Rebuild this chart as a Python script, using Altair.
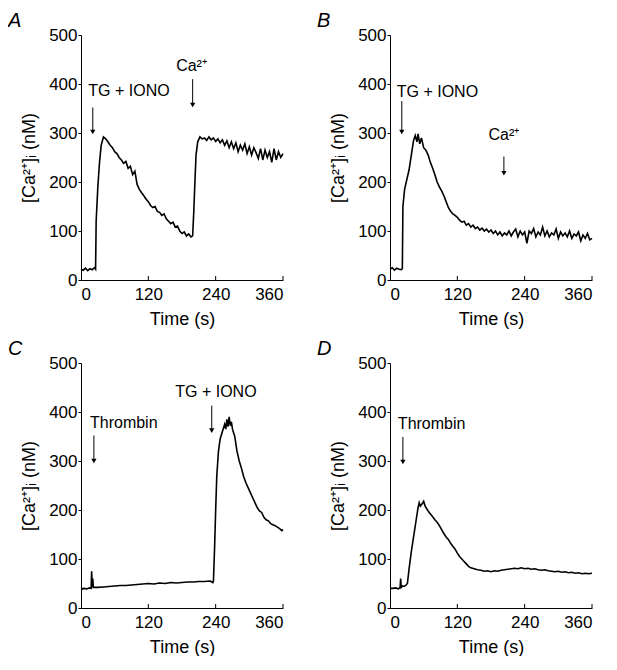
import altair as alt
import pandas as pd

# ---------------- data ----------------
A_t = [0, 4, 8, 12, 16, 20, 24, 26, 27, 30, 33, 36, 40, 44, 48, 52, 56, 60, 64, 68, 72, 76, 80, 84, 88,
       92, 96, 100, 104, 108, 112, 116, 120, 124, 128, 132, 136, 140, 144, 148, 152, 156, 160, 164, 168,
       172, 176, 180, 184, 188, 192, 196, 199, 201, 203, 205, 208, 212, 216, 220, 224, 228, 232, 236, 240,
       244, 248, 252, 256, 260, 264, 268, 272, 276, 280, 284, 288, 292, 296, 300, 304, 308, 312, 316, 320,
       324, 328, 332, 336, 340, 344, 348, 352, 356, 360]
A_v = [22, 20, 24, 19, 23, 21, 25, 22, 120, 190, 240, 275, 292, 288, 282, 275, 270, 262, 258, 250, 245, 238,
       242, 228, 232, 215, 222, 195, 185, 178, 172, 165, 160, 152, 148, 150, 140, 138, 132, 135, 125, 120, 115,
       118, 108, 110, 100, 95, 98, 90, 94, 88, 90, 140, 200, 255, 282, 292, 288, 290, 285, 292, 286, 290, 283,
       288, 280, 286, 275, 284, 270, 282, 268, 280, 262, 275, 265, 278, 258, 272, 255, 270, 260, 248, 268,
       245, 265, 250, 262, 240, 268, 245, 262, 250, 258]

B_t = [0, 4, 8, 12, 16, 20, 22, 23, 26, 30, 34, 38, 42, 45, 48, 50, 53, 56, 60, 64, 68, 72, 76, 80, 84, 88,
       92, 96, 100, 104, 108, 112, 116, 120, 124, 128, 132, 136, 140, 144, 148, 152, 156, 160, 164, 168, 172,
       176, 180, 184, 188, 192, 196, 200, 204, 208, 212, 216, 220, 224, 228, 232, 236, 240, 244, 248, 252,
       256, 260, 264, 268, 272, 276, 280, 284, 288, 292, 296, 300, 304, 308, 312, 316, 320, 324, 328, 332,
       336, 340, 344, 348, 352, 356, 360]
B_v = [22, 25, 20, 24, 22, 21, 23, 150, 185, 205, 225, 255, 285, 295, 282, 298, 278, 290, 270, 265, 255, 240,
       228, 215, 200, 190, 182, 172, 160, 148, 140, 135, 132, 128, 122, 118, 120, 112, 115, 108, 112, 105, 108,
       102, 106, 100, 104, 98, 102, 95, 100, 92, 98, 90, 96, 92, 100, 90, 98, 104, 88, 100, 92, 98, 75, 100,
       95, 105, 88, 98, 92, 108, 90, 100, 88, 96, 92, 104, 85, 98, 90, 96, 88, 100, 85, 94, 90, 98, 80, 92, 85,
       95, 82, 85]

C_t = [0, 5, 10, 15, 18, 19, 20, 21, 22, 30, 40, 50, 60, 70, 80, 90, 100, 110, 120, 130, 140, 150, 160, 170,
       180, 190, 200, 210, 220, 230, 235, 236, 238, 240, 242, 245, 248, 252, 256, 258, 260, 262, 264, 266, 268,
       270, 274, 278, 282, 286, 290, 294, 298, 302, 306, 310, 314, 318, 322, 326, 330, 334, 338, 342, 346, 350,
       354, 358, 360]
C_v = [38, 40, 39, 41, 40, 75, 42, 60, 42, 42, 43, 44, 45, 46, 46, 47, 48, 49, 50, 49, 51, 50, 52, 51, 52, 53,
       53, 54, 54, 55, 52, 55, 120, 200, 270, 320, 345, 360, 375, 365, 385, 370, 390, 372, 380, 365, 350, 320,
       300, 285, 268, 255, 245, 235, 225, 215, 205, 198, 195, 185, 180, 178, 172, 170, 168, 165, 162, 158, 160]

D_t = [0, 5, 10, 15, 18, 19, 20, 22, 25, 28, 31, 34, 38, 42, 46, 50, 52, 54, 57, 60, 62, 64, 68, 72, 76, 80,
       84, 88, 92, 96, 100, 104, 108, 112, 116, 120, 124, 128, 132, 136, 140, 144, 150, 156, 162, 168, 174,
       180, 186, 192, 198, 204, 210, 216, 222, 228, 234, 240, 246, 252, 258, 264, 270, 276, 282, 288, 294, 300,
       306, 312, 318, 324, 330, 336, 342, 348, 354, 360]
D_v = [40, 40, 41, 39, 42, 60, 42, 45, 44, 46, 50, 80, 115, 145, 175, 205, 215, 208, 212, 218, 210, 205, 198,
       192, 186, 180, 175, 168, 160, 152, 145, 140, 132, 126, 120, 112, 105, 100, 95, 90, 85, 82, 80, 78, 77,
       75, 76, 74, 76, 75, 77, 78, 79, 80, 81, 80, 82, 80, 81, 79, 80, 78, 77, 78, 76, 75, 74, 75, 73, 74, 72,
       73, 71, 72, 70, 71, 70, 71]

# annotations: label text, label time, label value, alignment
A_labels = ["TG + IONO", "Ca²⁺"]
A_label_t = [13, 197]
A_label_v = [386, 437]
A_label_align = ["left", "center"]
A_arrow_t = [21, 199]
A_arrow_top = [352, 410]
A_arrow_tip = [302, 357]

B_labels = ["TG + IONO", "Ca²⁺"]
B_label_t = [12, 203]
B_label_v = [384, 296]
B_label_align = ["left", "center"]
B_arrow_t = [21, 203]
B_arrow_top = [365, 252]
B_arrow_tip = [302, 218]

C_labels = ["Thrombin", "TG + IONO"]
C_label_t = [16, 168]
C_label_v = [377, 441]
C_label_align = ["left", "left"]
C_arrow_t = [23, 233]
C_arrow_top = [352, 413]
C_arrow_tip = [300, 362]

D_labels = ["Thrombin"]
D_label_t = [14]
D_label_v = [375]
D_label_align = ["left"]
D_arrow_t = [23]
D_arrow_top = [349]
D_arrow_tip = [298]

X_TICKS = [0, 120, 240, 360]
X_INNER_TICKS = [120, 240, 360]
Y_TICKS = [0, 100, 200, 300, 400, 500]

FONT = "Liberation Sans"
W, H = 202, 245

xs = alt.Scale(domain=[0, 360], nice=False, zero=False)
ys = alt.Scale(domain=[0, 500], nice=False)
xax = alt.Axis(values=X_TICKS, title="Time (s)", tickSize=0, labelPadding=6, titlePadding=8, format="d")
yax = alt.Axis(values=Y_TICKS, title="[Ca²⁺]ᵢ (nM)", tickSize=3, labelPadding=1, titlePadding=10, format="d")


def X(field):
    return alt.X(field, scale=xs, axis=xax)


def Y(field):
    return alt.Y(field, scale=ys, axis=yax)


def panel(letter, t, v, labels, lt, lv, lal, at, atop, atip):
    df = pd.DataFrame({"t": t, "v": v})
    line = alt.Chart(df).mark_line(color="black", strokeWidth=1.6).encode(x=X("t:Q"), y=Y("v:Q"))
    ticks = alt.Chart(pd.DataFrame({"t": X_INNER_TICKS})).mark_rule(color="black", strokeWidth=1).encode(
        x=X("t:Q"), y=alt.value(H), y2=alt.value(H - 4)
    )
    layers = [line, ticks]
    for i, lab in enumerate(labels):
        layers.append(
            alt.Chart(pd.DataFrame({"t": [lt[i]], "v": [lv[i]], "s": [lab]})).mark_text(
                align=lal[i], baseline="middle", fontSize=16, font=FONT, color="black"
            ).encode(x=X("t:Q"), y=Y("v:Q"), text="s:N")
        )
    adf = pd.DataFrame({"t": at, "v": atop, "v2": atip})
    layers.append(
        alt.Chart(adf).mark_rule(color="black", strokeWidth=1).encode(x=X("t:Q"), y=Y("v:Q"), y2="v2:Q")
    )
    layers.append(
        alt.Chart(adf).mark_point(shape="triangle-down", size=28, filled=True, color="black", opacity=1).encode(
            x=X("t:Q"), y=Y("v2:Q")
        )
    )
    layers.append(
        alt.Chart(pd.DataFrame({"s": [letter]})).mark_text(
            align="left", baseline="alphabetic", fontSize=20, fontStyle="italic", font=FONT, color="black"
        ).encode(x=alt.value(-73), y=alt.value(-8), text="s:N")
    )
    return alt.layer(*layers).properties(width=W, height=H)


pA = panel("A", A_t, A_v, A_labels, A_label_t, A_label_v, A_label_align, A_arrow_t, A_arrow_top, A_arrow_tip)
pB = panel("B", B_t, B_v, B_labels, B_label_t, B_label_v, B_label_align, B_arrow_t, B_arrow_top, B_arrow_tip)
pC = panel("C", C_t, C_v, C_labels, C_label_t, C_label_v, C_label_align, C_arrow_t, C_arrow_top, C_arrow_tip)
pD = panel("D", D_t, D_v, D_labels, D_label_t, D_label_v, D_label_align, D_arrow_t, D_arrow_top, D_arrow_tip)

chart = alt.concat(pA, pB, pC, pD, columns=2, spacing={"row": 11, "column": 30}).properties(
    padding={"left": 0, "top": 3, "right": 0, "bottom": 0}
).configure_view(stroke=None).configure_axis(
    domainColor="black", domainWidth=1, tickColor="black", tickWidth=1, grid=False,
    labelFont=FONT, labelFontSize=17, labelColor="black",
    titleFont=FONT, titleFontSize=18, titleFontWeight="normal", titleColor="black",
)

chart.save("out.html", embed_options={"renderer": "svg", "actions": False})
